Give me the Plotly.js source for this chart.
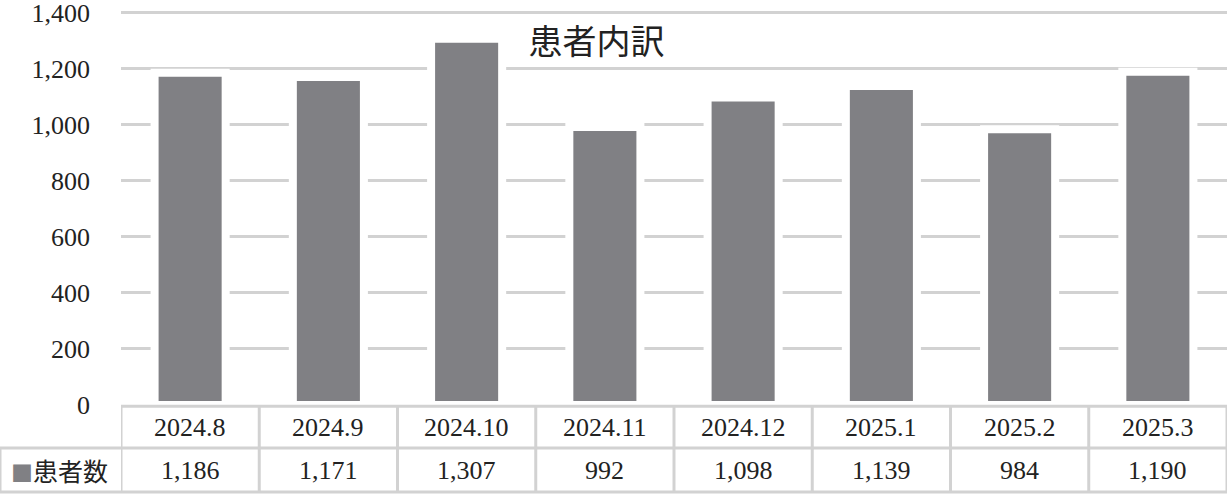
<!DOCTYPE html>
<html>
<head>
<meta charset="utf-8">
<script src="https://cdn.plot.ly/plotly-3.0.1.min.js"></script>
<style>
  html, body { margin: 0; padding: 0; background: #fff; }
  #chart { width: 1229px; height: 495px; }
</style>
</head>
<body>
<div id="chart"></div>
<script>
var months = ['2024.8', '2024.9', '2024.10', '2024.11', '2024.12', '2025.1', '2025.2', '2025.3'];
var patients = [1186, 1171, 1307, 992, 1098, 1139, 984, 1190];
var seriesName = '患者数';
var yTicks = [0, 200, 400, 600, 800, 1000, 1200, 1400];

var serif = 'Liberation Serif, Noto Sans CJK JP, serif';
var gridColor = '#d2d2d2';
var barColor = '#808084';

// table geometry in paper units (plot is 395px tall, 1106px wide)
var rowTop = -0.003, rowMid = -0.109, rowBot = -0.220;
var leftEdge = -0.1094;

function fmt(v) {
  return v.toLocaleString('en-US');
}

var shapes = [];
// horizontal table lines
shapes.push({type: 'line', xref: 'paper', yref: 'paper', x0: 0, x1: 1, y0: rowTop, y1: rowTop,
  line: {color: gridColor, width: 3}});
shapes.push({type: 'line', xref: 'paper', yref: 'paper', x0: leftEdge, x1: 1, y0: rowMid, y1: rowMid,
  line: {color: gridColor, width: 3}});
shapes.push({type: 'line', xref: 'paper', yref: 'paper', x0: leftEdge, x1: 1, y0: rowBot, y1: rowBot,
  line: {color: gridColor, width: 3}});
// vertical table lines
for (var i = 0; i <= months.length; i++) {
  shapes.push({type: 'line', xref: 'x', yref: 'paper', x0: i - 0.5, x1: i - 0.5, y0: rowTop, y1: rowBot,
    line: {color: gridColor, width: 3}});
}
shapes.push({type: 'line', xref: 'paper', yref: 'paper', x0: leftEdge, x1: leftEdge, y0: rowMid, y1: rowBot,
  line: {color: gridColor, width: 3}});

var cellFont = {family: serif, size: 26, color: '#222'};
var annotations = [];
months.forEach(function (m, i) {
  annotations.push({xref: 'x', yref: 'paper', x: i, y: -0.057, yanchor: 'middle', text: m,
    showarrow: false, font: cellFont});
  annotations.push({xref: 'x', yref: 'paper', x: i, y: -0.165, yanchor: 'middle', text: fmt(patients[i]),
    showarrow: false, font: cellFont});
});
annotations.push({xref: 'paper', yref: 'paper', x: leftEdge + 0.008, xanchor: 'left', y: -0.165, yanchor: 'middle',
  text: '<span style="color:' + barColor + ';font-size:22px">■</span>' + seriesName, showarrow: false,
  font: {family: 'Noto Sans CJK JP', size: 25, color: '#222'}});

var trace = {
  x: months,
  y: patients,
  name: seriesName,
  type: 'bar',
  marker: {color: barColor, line: {color: '#ffffff', width: 8}},
  hoverinfo: 'x+y'
};

var layout = {
  width: 1229,
  height: 495,
  margin: {l: 121, r: 2, t: 10, b: 90, pad: 0},
  paper_bgcolor: '#fff',
  plot_bgcolor: '#fff',
  showlegend: false,
  bargap: 0.486,
  title: {
    text: '患者内訳',
    font: {family: 'Noto Sans CJK JP', size: 34, color: '#222'},
    xref: 'paper', x: 0.43, xanchor: 'center',
    yref: 'container', y: 0.915, yanchor: 'middle'
  },
  xaxis: {
    type: 'category',
    range: [-0.5, 7.5],
    showticklabels: false,
    showgrid: false,
    zeroline: false,
    showline: false,
    ticks: ''
  },
  yaxis: {
    range: [0, 1410],
    tickvals: yTicks,
    ticktext: yTicks.map(fmt),
    tickfont: {family: serif, size: 26, color: '#222'},
    ticklabelstandoff: 30,
    ticklabeloverflow: 'allow',
    showgrid: true,
    gridcolor: gridColor,
    gridwidth: 3,
    zeroline: false,
    showline: false,
    ticks: ''
  },
  shapes: shapes,
  annotations: annotations
};

Plotly.newPlot('chart', [trace], layout, {displayModeBar: false, staticPlot: true});
</script>
</body>
</html>
